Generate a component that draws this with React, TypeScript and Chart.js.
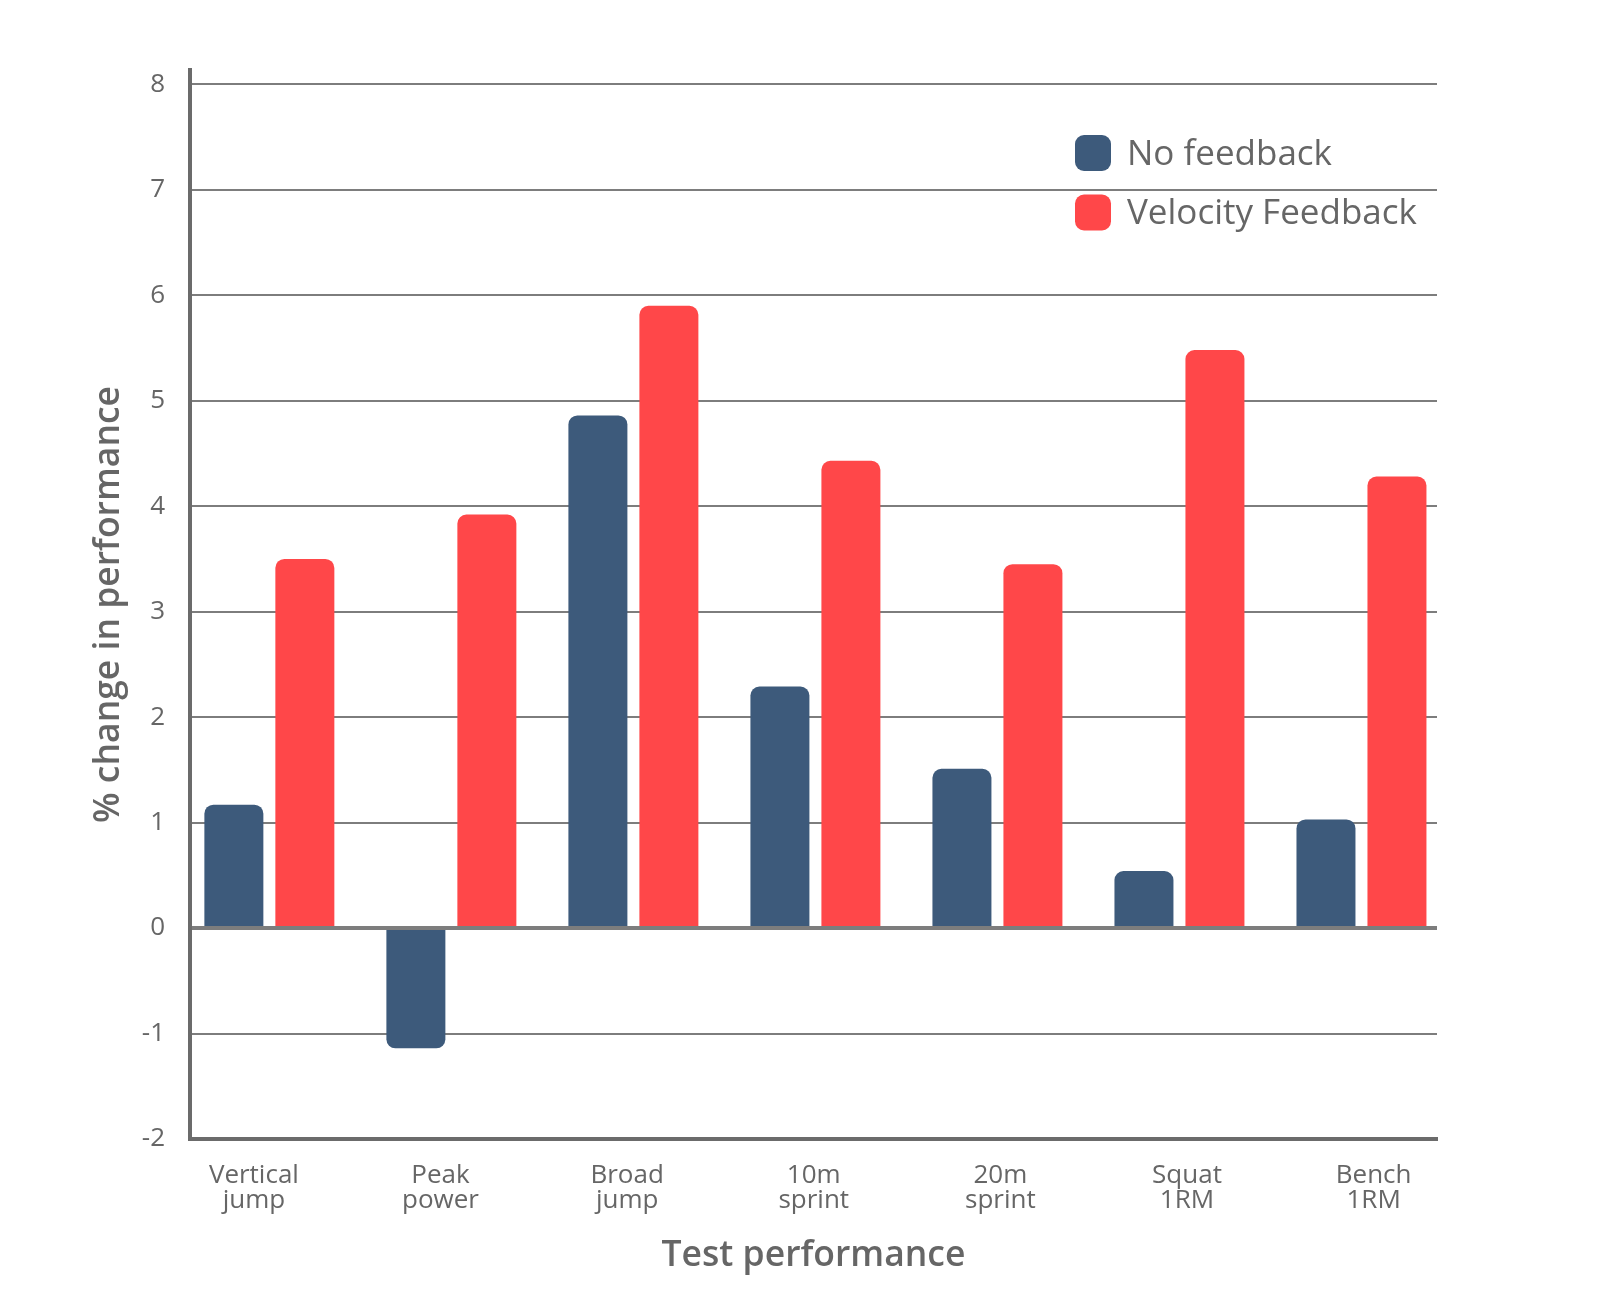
import React, { useEffect, useRef } from 'react';
import { Chart, registerables } from 'chart.js';

Chart.register(...registerables);

// ---- data ----
const categories = ['Vertical jump', 'Peak power', 'Broad jump', '10m sprint', '20m sprint', 'Squat 1RM', 'Bench 1RM'];
const noFeedback = [1.17, -1.14, 4.86, 2.29, 1.51, 0.54, 1.03];
const velocityFeedback = [3.5, 3.92, 5.9, 4.43, 3.45, 5.48, 4.28];
const yTicks = [-2, -1, 0, 1, 2, 3, 4, 5, 6, 7, 8];
const seriesNames = ['No feedback', 'Velocity Feedback'];
const seriesColors = ['#3d5a7b', '#ff4749'];
const xTitle = 'Test performance';
const yTitle = '% change in performance';

// ---- layout constants ----
const FONT = "'Open Sans', 'DejaVu Sans', sans-serif";
const TEXT = '#666666';
const AXIS = '#6b6b6b';
const GRID = '#7d7d7d';
const labelShift = -0.085;
const labelStep = 1.0253;

const insideLegend = {
  id: 'insideLegend',
  afterDraw(chart: any) {
    const { ctx } = chart;
    ctx.save();
    chart.data.datasets.forEach((ds: any, i: number) => {
      const top = 135 + i * 59.5;
      ctx.fillStyle = ds.backgroundColor;
      ctx.beginPath();
      ctx.roundRect(1075, top, 36, 36, 9);
      ctx.fill();
      ctx.fillStyle = TEXT;
      ctx.font = `35px ${FONT}`;
      ctx.textBaseline = 'middle';
      ctx.textAlign = 'left';
      ctx.fillText(ds.label, 1127, top + 20);
    });
    ctx.restore();
  },
};

export default function App() {
  const ref = useRef<HTMLCanvasElement | null>(null);

  useEffect(() => {
    if (!ref.current) return;
    const series = [noFeedback, velocityFeedback];
    const chart = new Chart(ref.current, {
      type: 'bar',
      data: {
        datasets: series.map((vals, s) => ({
          label: seriesNames[s],
          data: vals.map((v, i) => ({ x: i, y: v })),
          backgroundColor: seriesColors[s],
          borderWidth: 0,
          borderRadius: 9,
          borderSkipped: 'start',
          categoryPercentage: 0.78,
          barPercentage: 0.831,
        })),
      },
      options: {
        responsive: false,
        animation: false,
        devicePixelRatio: 1,
        layout: { padding: { top: 70, right: 163, left: 0, bottom: 0 } },
        plugins: {
          legend: { display: false },
          tooltip: { enabled: false },
        },
        scales: {
          x: {
            type: 'linear',
            offset: false,
            bounds: 'data',
            min: -0.436,
            max: 6.415,
            afterBuildTicks: (scale: any) => {
              scale.ticks = categories.map((_, i) => ({ value: labelShift + i * labelStep }));
            },
            afterFit: (scale: any) => {
              scale.height = 175;
            },
            grid: { display: false, drawTicks: false },
            border: { display: true, color: AXIS, width: 4 },
            ticks: {
              autoSkip: false,
              maxRotation: 0,
              padding: 25,
              color: TEXT,
              font: { family: FONT, size: 26, lineHeight: 0.93 },
              callback: (_v: any, i: number) => categories[i].split(' '),
            },
            title: {
              display: true,
              text: xTitle,
              color: TEXT,
              font: { family: FONT, size: 35.5, weight: '600' },
              padding: { top: 0, bottom: 37 },
            },
          },
          y: {
            min: -2,
            max: 8.135,
            bounds: 'data',
            afterBuildTicks: (scale: any) => {
              scale.ticks = yTicks.map((v) => ({ value: v }));
            },
            afterFit: (scale: any) => {
              scale.width = 190;
            },
            grid: {
              drawTicks: false,
              color: GRID,
              lineWidth: (c: any) => (c.tick && c.tick.value === 0 ? 4 : 2),
            },
            border: { display: true, color: AXIS, width: 4 },
            ticks: {
              padding: 25,
              color: TEXT,
              font: { family: FONT, size: 26 },
              callback: (v: any) => String(v),
            },
            title: {
              display: true,
              text: yTitle,
              color: TEXT,
              font: { family: FONT, size: 35.5, weight: '600' },
              padding: { top: 88, bottom: 0 },
            },
          },
        },
      },
      plugins: [insideLegend],
    } as any);
    return () => chart.destroy();
  }, []);

  return (
    <div style={{ position: 'absolute', left: 0, top: 0, width: 1600, height: 1314, background: '#ffffff' }}>
      <canvas ref={ref} width={1600} height={1314} style={{ width: 1600, height: 1314, display: 'block' }} />
    </div>
  );
}
